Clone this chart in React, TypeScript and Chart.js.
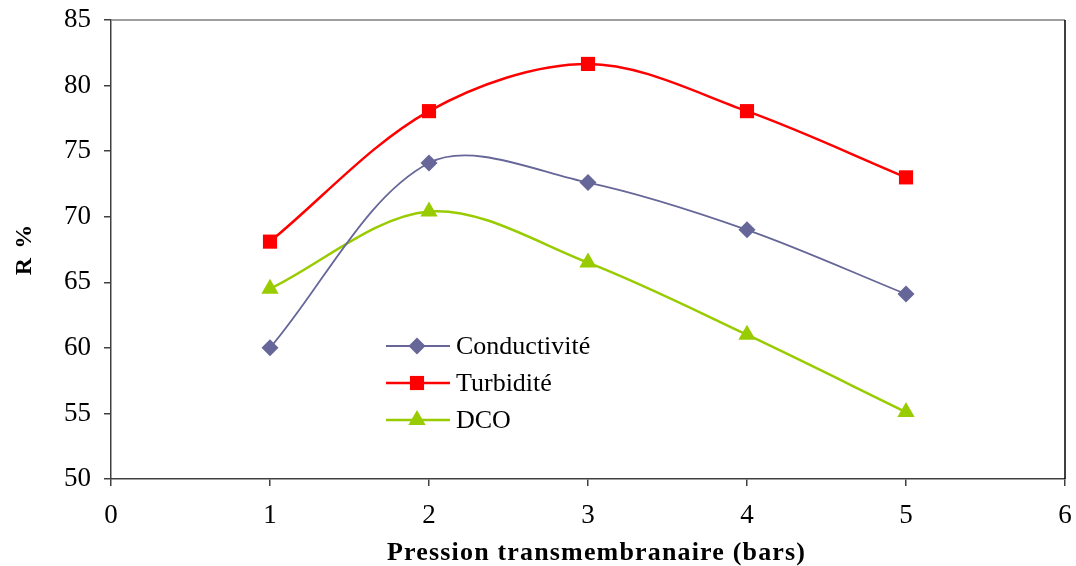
import React, { useEffect, useRef } from 'react';
import { Chart, registerables } from 'chart.js';

Chart.register(...registerables);

// Transmembrane pressure (bars) and retention rates R (%)
const pressures = [1, 2, 3, 4, 5];
const conductivite = [60, 74.1, 72.6, 69, 64.1];
const turbidite = [68.1, 78.05, 81.65, 78.05, 73];
const dco = [64.5, 70.4, 66.5, 61, 55.1];

const seriesNames = ['Conductivité', 'Turbidité', 'DCO'];
const seriesColors = ['#666699', '#ff0000', '#99cc00'];
const seriesPointStyles = ['rectRot', 'rect', 'triangle'];
const seriesPointRadius = [8.5, 10, 10];
const seriesLineWidth = [1.8, 2.5, 2.5];

const xMin = 0;
const xMax = 6;
const yMin = 50;
const yMax = 85;
const yStep = 5;

const xTitle = 'Pression transmembranaire (bars)';
const yTitle = 'R %';

const SERIF = "'Liberation Serif', 'Times New Roman', serif";
const WIDTH = 1076;
const HEIGHT = 566;

function drawMarker(ctx: CanvasRenderingContext2D, style: string, x: number, y: number, r: number) {
  ctx.beginPath();
  if (style === 'rectRot') {
    ctx.moveTo(x, y - r);
    ctx.lineTo(x + r, y);
    ctx.lineTo(x, y + r);
    ctx.lineTo(x - r, y);
  } else if (style === 'rect') {
    const h = r * Math.SQRT1_2;
    ctx.rect(x - h, y - h, 2 * h, 2 * h);
  } else {
    for (let i = 0; i < 3; i++) {
      const a = (i * 2 * Math.PI) / 3;
      const px = x + Math.sin(a) * r;
      const py = y - Math.cos(a) * r;
      if (i === 0) ctx.moveTo(px, py);
      else ctx.lineTo(px, py);
    }
  }
  ctx.closePath();
  ctx.fill();
}

// Plot frame: grey top edge and black right edge
const framePlugin = {
  id: 'frame',
  beforeDatasetsDraw(chart: any) {
    const { ctx, chartArea } = chart;
    ctx.save();
    ctx.lineWidth = 1.5;
    ctx.strokeStyle = '#808080';
    ctx.beginPath();
    ctx.moveTo(chartArea.left, chartArea.top);
    ctx.lineTo(chartArea.right, chartArea.top);
    ctx.stroke();
    ctx.strokeStyle = '#000000';
    ctx.beginPath();
    ctx.moveTo(chartArea.right, chartArea.top);
    ctx.lineTo(chartArea.right, chartArea.bottom);
    ctx.stroke();
    ctx.restore();
  },
};

// Bold axis titles
const titlesPlugin = {
  id: 'axisTitles',
  afterDraw(chart: any) {
    const { ctx } = chart;
    ctx.save();
    ctx.fillStyle = '#000000';
    ctx.textAlign = 'center';
    ctx.textBaseline = 'alphabetic';

    ctx.font = `bold 26px ${SERIF}`;
    const wx = ctx.measureText(xTitle).width;
    const spacingX = Math.max(0, (418 - wx) / (xTitle.length - 1));
    (ctx as any).letterSpacing = `${spacingX}px`;
    ctx.fillText(xTitle, 596 + spacingX / 2, 560);

    ctx.translate(31, 250);
    ctx.rotate(-Math.PI / 2);
    ctx.font = `bold 24px ${SERIF}`;
    (ctx as any).letterSpacing = '1.5px';
    ctx.fillText(yTitle, 0.75, 0);
    ctx.restore();
  },
};

// Legend placed inside the plot: line sample, marker and name
const legendPlugin = {
  id: 'insideLegend',
  afterDatasetsDraw(chart: any) {
    const { ctx } = chart;
    const x0 = 386;
    const x1 = 450;
    const rows = [346, 383, 420];
    ctx.save();
    ctx.font = `26px ${SERIF}`;
    ctx.textBaseline = 'middle';
    ctx.textAlign = 'left';
    seriesNames.forEach((name, i) => {
      const y = rows[i];
      ctx.strokeStyle = seriesColors[i];
      ctx.lineWidth = seriesLineWidth[i];
      ctx.beginPath();
      ctx.moveTo(x0, y);
      ctx.lineTo(x1, y);
      ctx.stroke();
      ctx.fillStyle = seriesColors[i];
      drawMarker(ctx, seriesPointStyles[i], (x0 + x1) / 2 - 1, y, seriesPointRadius[i]);
      ctx.fillStyle = '#000000';
      ctx.fillText(name, 456, y + 1);
    });
    ctx.restore();
  },
};

export default function App() {
  const canvasRef = useRef<HTMLCanvasElement | null>(null);

  useEffect(() => {
    if (!canvasRef.current) return;
    const series = [conductivite, turbidite, dco];
    const chart = new Chart(canvasRef.current, {
      type: 'line',
      data: {
        datasets: series.map((values, i) => ({
          label: seriesNames[i],
          data: values.map((v, j) => ({ x: pressures[j], y: v })),
          borderColor: seriesColors[i],
          backgroundColor: seriesColors[i],
          borderWidth: seriesLineWidth[i],
          pointStyle: seriesPointStyles[i] as any,
          pointRadius: seriesPointRadius[i],
          pointBorderWidth: 0,
          pointBackgroundColor: seriesColors[i],
          tension: 0.33,
          fill: false,
        })),
      },
      options: {
        animation: false,
        responsive: false,
        maintainAspectRatio: false,
        layout: { padding: { top: 20, right: 11, left: 0, bottom: 0 } },
        plugins: {
          legend: { display: false },
          tooltip: { enabled: false },
        },
        scales: {
          x: {
            type: 'linear',
            min: xMin,
            max: xMax,
            ticks: {
              stepSize: 1,
              color: '#000000',
              font: { family: SERIF, size: 27 },
              padding: 14,
              maxRotation: 0,
            },
            grid: {
              drawOnChartArea: false,
              drawTicks: true,
              tickLength: 7,
              color: '#404040',
              lineWidth: 1.5,
            },
            border: { color: '#404040', width: 1.5 },
            afterFit: (s: any) => {
              s.height = 87;
              s.paddingLeft = 0;
              s.paddingRight = 0;
            },
          },
          y: {
            type: 'linear',
            min: yMin,
            max: yMax,
            ticks: {
              stepSize: yStep,
              color: '#000000',
              font: { family: SERIF, size: 27 },
              padding: 13,
            },
            grid: {
              drawOnChartArea: false,
              drawTicks: true,
              tickLength: 7,
              color: '#404040',
              lineWidth: 1.5,
            },
            border: { color: '#404040', width: 1.5 },
            afterFit: (s: any) => {
              s.width = 111;
              s.paddingTop = 0;
              s.paddingBottom = 0;
            },
          },
        },
      },
      plugins: [framePlugin, legendPlugin, titlesPlugin],
    });
    return () => chart.destroy();
  }, []);

  return (
    <div style={{ width: WIDTH, height: HEIGHT, overflow: 'hidden' }}>
      <style>{'body { margin: 0; }'}</style>
      <canvas ref={canvasRef} width={WIDTH} height={HEIGHT} style={{ display: 'block' }} />
    </div>
  );
}
